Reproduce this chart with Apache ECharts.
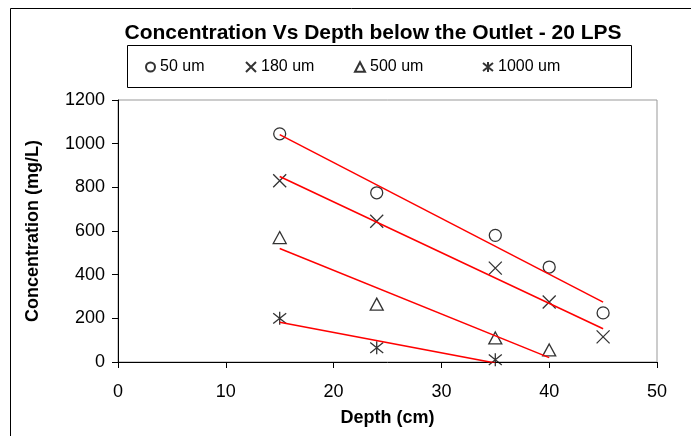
<!DOCTYPE html>
<html>
<head>
<meta charset="utf-8">
<script src="https://cdn.jsdelivr.net/npm/echarts@6/dist/echarts.min.js"></script>
<style>
html,body{margin:0;padding:0;background:#fff;}
#chart{width:691px;height:436px;}
</style>
</head>
<body>
<div id="chart"></div>
<script>
// ---- data ----
var depth50 = [15, 24, 35, 40, 45];
var conc50 = [1045, 775, 580, 435, 225];
var depth180 = [15, 24, 35, 40, 45];
var conc180 = [830, 645, 430, 275, 115];
var depth500 = [15, 24, 35, 40];
var conc500 = [570, 265, 110, 55];
var depth1000 = [15, 24, 35];
var conc1000 = [200, 65, 10];
var seriesNames = ['50 um', '180 um', '500 um', '1000 um'];
var xTicks = [0, 10, 20, 30, 40, 50];
var yTicks = [0, 200, 400, 600, 800, 1000, 1200];
var titleText = 'Concentration Vs Depth below the Outlet - 20 LPS';
var xTitle = 'Depth (cm)';
var yTitle = 'Concentration (mg/L)';

var FONT = '"Liberation Sans", Arial, sans-serif';

function pairs(xs, ys) { return xs.map(function (x, i) { return [x, ys[i]]; }); }
// least-squares linear trendline (as in the spreadsheet's linear trendline)
function trend(xs, ys) {
  var n = xs.length, mx = 0, my = 0, sxx = 0, sxy = 0;
  for (var i = 0; i < n; i++) { mx += xs[i]; my += ys[i]; }
  mx /= n; my /= n;
  for (var j = 0; j < n; j++) { sxx += (xs[j] - mx) * (xs[j] - mx); sxy += (xs[j] - mx) * (ys[j] - my); }
  var b = sxy / sxx, a = my - b * mx;
  var x0 = Math.min.apply(null, xs), x1 = Math.max.apply(null, xs);
  return [[x0, a + b * x0], [x1, a + b * x1]];
}

var symbols = [
  'circle',
  'path://M0,0L10,10M10,0L0,10',
  'path://M5,0L10,9.5L0,9.5Z',
  'path://M0,1L10,9M10,1L0,9M5,0L5,10'
];
var sizes = [12, 13, [13, 12], 13];
var legendSizes = [9, 10, 10, 10];
var dataSets = [[depth50, conc50], [depth180, conc180], [depth500, conc500], [depth1000, conc1000]];

var series = [];
dataSets.forEach(function (d, i) {
  series.push({
    name: seriesNames[i], type: 'scatter', data: pairs(d[0], d[1]),
    symbol: symbols[i], symbolSize: sizes[i],
    itemStyle: { color: 'rgba(0,0,0,0)', borderColor: '#000', borderWidth: 1.3 },
    z: 3
  });
});
dataSets.forEach(function (d, i) {
  series.push({
    name: 'trend ' + seriesNames[i], type: 'line', data: trend(d[0], d[1]),
    symbol: 'none', lineStyle: { color: '#ff0000', width: 1.5 }, silent: true, z: 4
  });
});

var legendLefts = [145, 245, 354, 482];
var legends = seriesNames.map(function (nm, i) {
  return {
    data: [{ name: nm }], left: legendLefts[i], top: 59, padding: 0,
    itemWidth: legendSizes[i], itemHeight: legendSizes[i], itemGap: 0,
    textStyle: { fontFamily: FONT, fontSize: 16, color: '#000' }
  };
});

var chart = echarts.init(document.getElementById('chart'), null, { renderer: 'canvas' });
chart.setOption({
  animation: false,
  backgroundColor: '#fff',
  title: {
    text: titleText, left: 368, top: 18, textAlign: 'center',
    textStyle: { fontFamily: FONT, fontSize: 21, fontWeight: 'bold', color: '#000' }
  },
  legend: legends,
  graphic: [
    { type: 'rect', shape: { x: 10.5, y: 8.5, width: 720, height: 460 }, style: { fill: 'none', stroke: '#000', lineWidth: 1 }, silent: true },
    { type: 'rect', shape: { x: 127.5, y: 45.5, width: 504, height: 42 }, style: { fill: 'none', stroke: '#000', lineWidth: 1 }, silent: true }
  ],
  grid: { left: 118, right: 34, top: 100, bottom: 74, show: true, borderColor: '#999', borderWidth: 1, containLabel: false },
  xAxis: {
    type: 'value', min: xTicks[0], max: xTicks[xTicks.length - 1], interval: 10,
    name: xTitle, nameLocation: 'middle', nameGap: 47,
    nameTextStyle: { fontFamily: FONT, fontSize: 18, fontWeight: 'bold', color: '#000' },
    axisLine: { show: true, lineStyle: { color: '#000', width: 1 } },
    axisTick: { show: true, length: 6, lineStyle: { color: '#000' } },
    axisLabel: { fontFamily: FONT, fontSize: 18, color: '#000', margin: 21 },
    splitLine: { show: false }
  },
  yAxis: {
    type: 'value', min: yTicks[0], max: yTicks[yTicks.length - 1], interval: 200,
    name: yTitle, nameLocation: 'middle', nameGap: 76,
    nameTextStyle: { fontFamily: FONT, fontSize: 18, fontWeight: 'bold', color: '#000' },
    axisLine: { show: true, lineStyle: { color: '#000', width: 1 } },
    axisTick: { show: true, length: 6, lineStyle: { color: '#000' } },
    axisLabel: { fontFamily: FONT, fontSize: 18, color: '#000', margin: 13, formatter: function (v) { return String(v); } },
    splitLine: { show: false }
  },
  series: series
});
</script>
</body>
</html>
